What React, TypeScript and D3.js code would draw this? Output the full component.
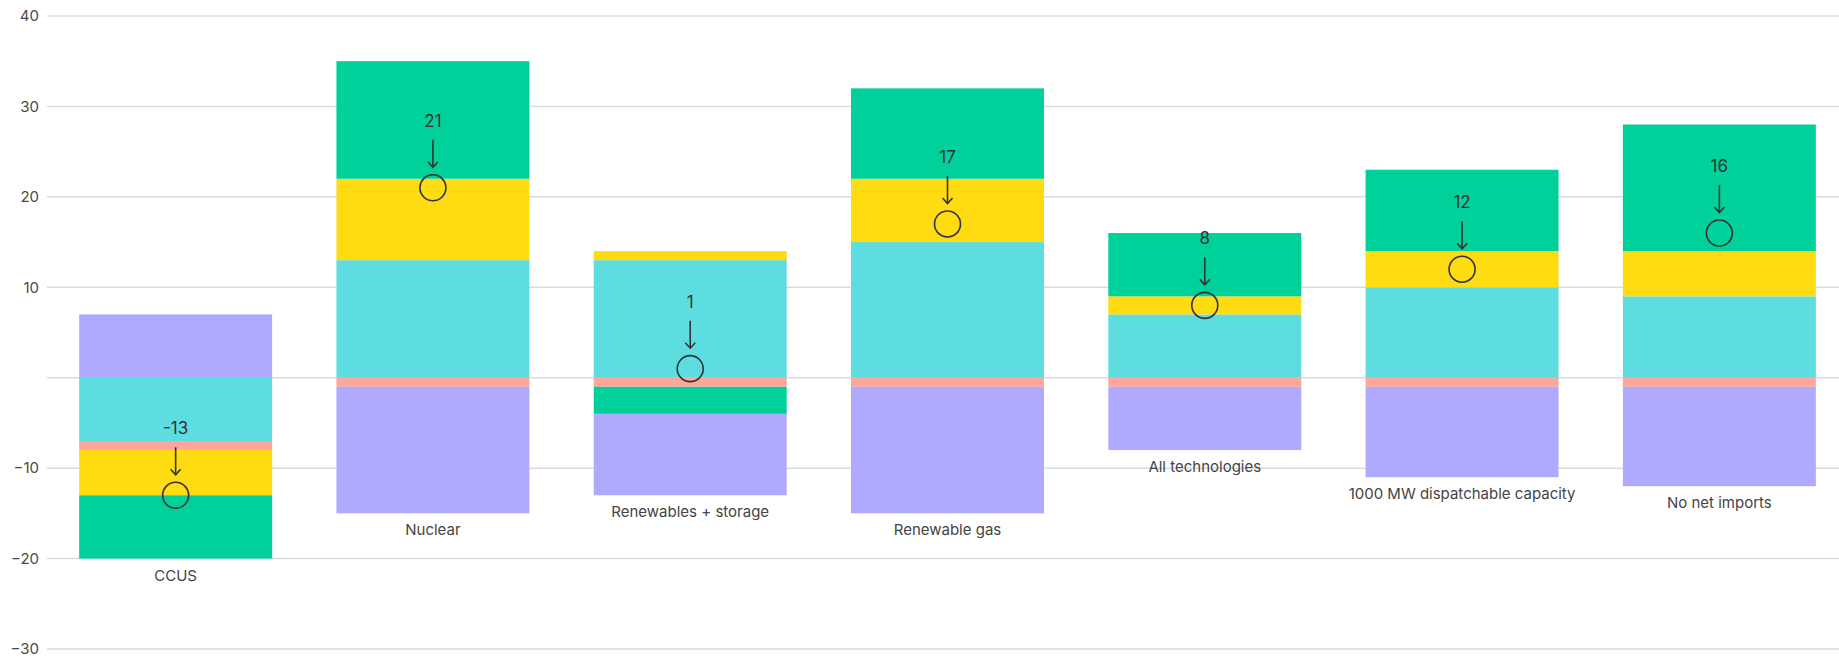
import { useMemo } from 'react'
import { scaleBand, scaleLinear, stack, stackOffsetDiverging, stackOrderNone } from 'd3'

// values
const CATEGORIES = [
  'CCUS',
  'Nuclear',
  'Renewables + storage',
  'Renewable gas',
  'All technologies',
  '1000 MW dispatchable capacity',
  'No net imports',
]
const CYAN = [-7, 13, 13, 15, 7, 10, 9]
const PINK = [-1, -1, -1, -1, -1, -1, -1]
const YELLOW = [-5, 9, 1, 7, 2, 4, 5]
const GREEN = [-7, 13, -3, 10, 7, 9, 14]
const PURPLE = [7, -14, -9, -14, -7, -10, -11]
const NET = [-13, 21, 1, 17, 8, 12, 16]
const NET_LABELS = ['-13', '21', '1', '17', '8', '12', '16']

const Y_TICKS = [40, 30, 20, 10, 0, -10, -20, -30]
const Y_TICK_LABELS = ['40', '30', '20', '10', '', '−10', '−20', '−30']

const KEYS = ['cyan', 'pink', 'yellow', 'green', 'purple'] as const
const COLORS: Record<string, string> = {
  cyan: '#5edde0',
  pink: '#ffa69b',
  yellow: '#ffdb12',
  green: '#00d19b',
  purple: '#b0aaff',
}

const W = 1839
const H = 658
const FONT = 'Inter, "Noto Sans", sans-serif'

export default function App() {
  const { x, y, series, rows } = useMemo(() => {
    const rows = CATEGORIES.map((c, i) => ({
      cat: c,
      cyan: CYAN[i],
      pink: PINK[i],
      yellow: YELLOW[i],
      green: GREEN[i],
      purple: PURPLE[i],
    }))
    const series = stack<any>()
      .keys(KEYS as unknown as string[])
      .order(stackOrderNone)
      .offset(stackOffsetDiverging)(rows)
    return {
      x: scaleBand().domain(CATEGORIES).range([47, 1848]).paddingInner(0.25).paddingOuter(0.125),
      y: scaleLinear().domain([-30, 40]).range([649, 16]),
      series,
      rows,
    }
  }, [])

  // lowest point of each stacked bar, used to hang the category label
  const bottoms = rows.map((_, i) => Math.min(0, ...series.map((s) => s[i][0])))

  return (
    <svg
      width={W}
      height={H}
      style={{ position: 'absolute', left: 0, top: 0, background: '#fff' }}
      fontFamily={FONT}
    >
      {Y_TICKS.map((t, i) => (
        <g key={t}>
          <line x1={47} x2={W} y1={y(t)} y2={y(t)} stroke="#d3dde3" strokeWidth={1.5} />
          <text x={39} y={y(t)} dy="0.35em" textAnchor="end" fontSize={15} fill="#4a4a4a">
            {Y_TICK_LABELS[i]}
          </text>
        </g>
      ))}

      {series.map((s) => (
        <g key={s.key} fill={COLORS[s.key]}>
          {s.map((d, i) => {
            const top = y(Math.max(d[0], d[1]))
            const bot = y(Math.min(d[0], d[1]))
            if (bot - top <= 0) return null
            return (
              <rect
                key={i}
                x={x(CATEGORIES[i])}
                y={top}
                width={x.bandwidth()}
                height={bot - top}
              />
            )
          })}
        </g>
      ))}

      {CATEGORIES.map((c, i) => {
        const cx = (x(c) ?? 0) + x.bandwidth() / 2
        const cy = y(NET[i])
        return (
          <g key={c}>
            <text x={cx} y={y(bottoms[i]) + 22} textAnchor="middle" fontSize={15} fill="#444">
              {c}
            </text>
            <circle cx={cx} cy={cy} r={13} fill="none" stroke="#333" strokeWidth={1.6} />
            <line x1={cx} x2={cx} y1={cy - 48} y2={cy - 21} stroke="#333" strokeWidth={1.6} />
            <path
              d={`M${cx - 5},${cy - 26} L${cx},${cy - 20.5} L${cx + 5},${cy - 26}`}
              fill="none"
              stroke="#333"
              strokeWidth={1.6}
            />
            <text x={cx} y={cy - 61} textAnchor="middle" fontSize={17} fill="#333">
              {NET_LABELS[i]}
            </text>
          </g>
        )
      })}
    </svg>
  )
}
